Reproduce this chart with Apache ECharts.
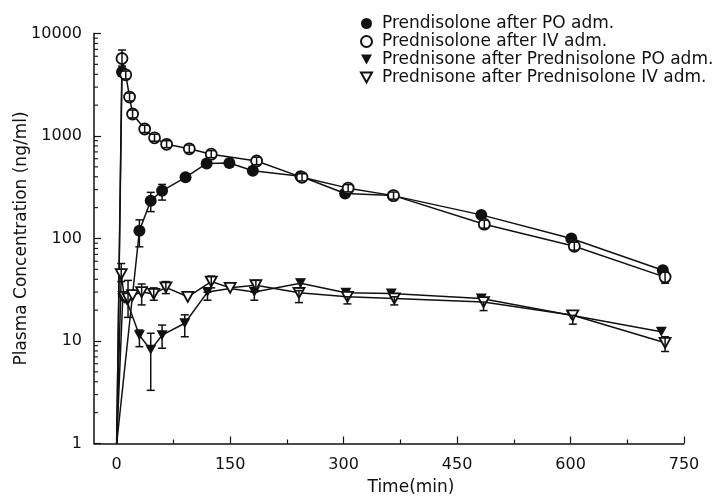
<!DOCTYPE html>
<html lang="en">
<head>
    <meta charset="UTF-8">
    <title>Prednisolone / Prednisone plasma concentration</title>
    <script src="https://cdn.jsdelivr.net/npm/echarts@6/dist/echarts.min.js"></script>
    <style>
        html, body { margin: 0; padding: 0; background: #fff; }
    </style>
</head>
<body>
    <div id="main" style="width: 724px;height:497px;"></div>
    <script type="text/javascript">
        // time (min) and concentration (ng/ml)
        // (time 0 is drawn at 1 on the log axis, as in the original)
        var tPO = [7, 0, 30, 45, 60, 91, 119, 149, 180, 243, 302, 365, 482, 601, 722];
        var cPO = [4200, 1, 119, 234, 292, 395, 540, 545, 459, 405, 275, 262, 170, 100, 49];

        var tIV = [0, 7, 12, 17, 21, 37, 50, 66, 96, 125, 185, 245, 306, 366, 486, 605, 725];
        var cIV = [1, 5700, 3950, 2400, 1640, 1170, 960, 830, 750, 665, 570, 395, 310, 262, 138, 84, 42];

        var tPnPO = [0, 8, 13, 30, 45, 60, 90, 120, 150, 182, 243, 303, 363, 482, 601, 720];
        var cPnPO = [1, 26, 25, 11.4, 8.2, 11.4, 14.9, 30, 32.5, 30, 36.6, 29.5, 29, 26, 17.8, 12.3];

        var tPnIV = [0, 6, 10, 15, 21, 33, 49, 65, 94, 125, 150, 184, 241, 305, 367, 485, 603, 725];
        var cPnIV = [1, 45, 27, 26, 28, 30, 28.8, 33.4, 27, 38, 33, 35, 29.5, 27, 26, 24, 17.8, 9.6];

        // error bars: [time, low, high]
        var errPO = [[30, 83, 152], [45, 183, 282], [60, 237, 337]];
        var errIV = [[7, 4800, 6900], [12, 3600, 4300], [17, 2200, 2620], [21, 1500, 1790], [37, 1080, 1270],
            [50, 890, 1040], [66, 770, 900], [96, 690, 815], [125, 615, 720], [185, 525, 620], [245, 365, 428],
            [306, 285, 336], [366, 242, 284], [486, 126, 151], [605, 77, 92], [725, 36.6, 47]];
        var errPnPO = [[30, 8.8, 12.8], [45, 3.3, 11.9], [60, 8.5, 14.3], [90, 11, 18], [120, 25, 30],
            [182, 25, 30], [243, 33, 40]];
        var errPnIV = [[6, 38, 57], [15, 17, 39], [33, 22.5, 36], [49, 25, 33], [65, 29, 38], [125, 33, 43],
            [184, 31, 39], [241, 23.7, 31], [305, 23, 27], [367, 22.5, 27], [485, 19.8, 24], [603, 14.6, 17.8],
            [725, 7.9, 11]];

        var xMajor = [0, 150, 300, 450, 600, 750];
        var xMinor = [75, 225, 375, 525, 675];
        var xMin = -30, xMax = 750;
        // minor ticks of the log axis: 2..9 of every decade
        var yMinor = [];
        for (var d = 1; d < 10000; d *= 10) {
            for (var k = 2; k <= 9; k++) yMinor.push(k * d);
        }

        var names = ['Prendisolone after PO adm.', 'Prednisolone after IV adm.',
            'Prednisone after Prednisolone PO adm.', 'Prednisone after Prednisolone IV adm.'];

        var FONT = 'DejaVu Sans';
        var INK = '#111';
        var TRI = 'path://M0,0 L10,0 L5,9 Z';

        function pairs(t, c) {
            return t.map(function (v, i) {
                // the start point at t=0 has no marker in the figure
                return v === 0 ? { value: [v, c[i]], symbol: 'none' } : [v, c[i]];
            });
        }

        function errRender(params, api) {
            var x = api.value(0);
            var lo = api.coord([x, api.value(1)]);
            var hi = api.coord([x, api.value(2)]);
            var w = 4;
            var st = { stroke: INK, lineWidth: 1.5 };
            return {
                type: 'group',
                children: [
                    { type: 'line', shape: { x1: lo[0], y1: lo[1], x2: hi[0], y2: hi[1] }, style: st },
                    { type: 'line', shape: { x1: lo[0] - w, y1: lo[1], x2: lo[0] + w, y2: lo[1] }, style: st },
                    { type: 'line', shape: { x1: hi[0] - w, y1: hi[1], x2: hi[0] + w, y2: hi[1] }, style: st }
                ]
            };
        }

        // short inward ticks on the left axis at the minor log values
        function minorTickRender(params, api) {
            var p = api.coord([xMin, api.value(0)]);
            return {
                type: 'line',
                shape: { x1: p[0], y1: p[1], x2: p[0] + 4, y2: p[1] },
                style: { stroke: INK, lineWidth: 1.1 }
            };
        }

        function lineSeries(name, data, symbol, filled, size) {
            return {
                name: name,
                type: 'line',
                data: data,
                symbol: symbol,
                symbolSize: size,
                showAllSymbol: true,
                z: 3,
                lineStyle: { color: INK, width: 1.5 },
                itemStyle: { color: filled ? INK : '#fff', borderColor: INK, borderWidth: filled ? 0 : 1.8, opacity: 1 },
                emphasis: { disabled: true },
                animation: false
            };
        }

        function errSeries(data) {
            return {
                type: 'custom',
                data: data,
                z: 4,
                renderItem: errRender,
                encode: { x: 0, y: [1, 2] },
                silent: true,
                animation: false
            };
        }

        var myChart = echarts.init(document.getElementById('main'));
        myChart.setOption({
            animation: false,
            textStyle: { fontFamily: FONT, color: INK },
            grid: { left: 94, right: 40, top: 33.5, bottom: 53.5, containLabel: false, outerBoundsMode: 'none' },
            legend: {
                orient: 'vertical',
                left: 355,
                top: 10,
                itemWidth: 11,
                itemHeight: 11,
                itemGap: 1,
                selectedMode: false,
                textStyle: { fontFamily: FONT, fontSize: 17, color: INK, padding: [0, 0, 0, 5] },
                data: [
                    { name: names[0], icon: 'circle' },
                    { name: names[1], icon: 'circle' },
                    { name: names[2], icon: TRI },
                    { name: names[3], icon: TRI }
                ]
            },
            xAxis: [{
                type: 'value',
                min: xMin,
                max: xMax,
                name: 'Time(min)',
                nameLocation: 'middle',
                nameGap: 36,
                nameTextStyle: { fontFamily: FONT, fontSize: 17, color: INK, padding: [0, 0, 0, 44] },
                splitLine: { show: false },
                axisLine: { onZero: false, lineStyle: { color: INK, width: 1.5 } },
                axisTick: { inside: true, length: 7, customValues: xMajor, lineStyle: { color: INK, width: 1.2 } },
                axisLabel: { customValues: xMajor, margin: 13, fontFamily: FONT, fontSize: 16, color: INK }
            }, {
                type: 'value',
                min: xMin,
                max: xMax,
                position: 'bottom',
                splitLine: { show: false },
                axisLine: { show: false, onZero: false },
                axisTick: { inside: true, length: 4, customValues: xMinor, lineStyle: { color: INK, width: 1.2 } },
                axisLabel: { show: false }
            }],
            yAxis: {
                type: 'log',
                logBase: 10,
                min: 1,
                max: 10000,
                name: 'Plasma Concentration (ng/ml)',
                nameLocation: 'middle',
                nameGap: 64,
                nameMoveOverlap: false,
                nameTextStyle: { fontFamily: FONT, fontSize: 17, color: INK },
                splitLine: { show: false },
                axisLine: { show: true, onZero: false, lineStyle: { color: INK, width: 1.5 } },
                axisTick: { inside: true, length: 7, lineStyle: { color: INK, width: 1.2 } },
                axisLabel: {
                    margin: 12, fontFamily: FONT, fontSize: 16, color: INK,
                    formatter: function (v) { return String(Math.round(v)); }
                }
            },
            series: [
                lineSeries(names[0], pairs(tPO, cPO), 'circle', true, 12),
                lineSeries(names[1], pairs(tIV, cIV), 'circle', false, 11),
                lineSeries(names[2], pairs(tPnPO, cPnPO), TRI, true, [11, 10]),
                lineSeries(names[3], pairs(tPnIV, cPnIV), TRI, false, [11, 10]),
                errSeries(errPO),
                errSeries(errIV),
                errSeries(errPnPO),
                errSeries(errPnIV),
                {
                    type: 'custom',
                    data: yMinor.map(function (v) { return [v]; }),
                    encode: { y: 0 },
                    renderItem: minorTickRender,
                    clip: false,
                    silent: true,
                    animation: false
                }
            ]
        });
    </script>
</body>
</html>
